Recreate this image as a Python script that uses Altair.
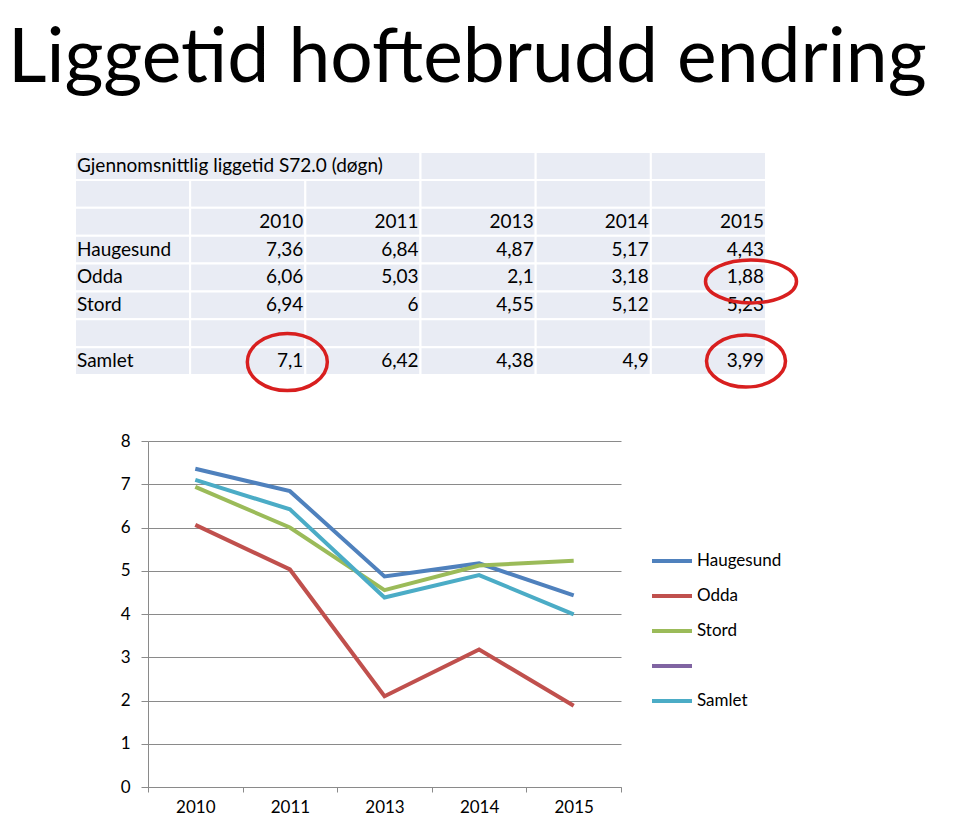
import altair as alt
import pandas as pd

# ---------------- data ----------------
years = ["2010", "2011", "2013", "2014", "2015"]
haugesund = [7.36, 6.84, 4.87, 5.17, 4.43]
odda = [6.06, 5.03, 2.1, 3.18, 1.88]
stord = [6.94, 6.0, 4.55, 5.12, 5.23]
samlet = [7.1, 6.42, 4.38, 4.9, 3.99]

series_names = ["Haugesund", "Odda", "Stord", "Serie4", "Samlet"]
series_colors = ["#4f81bd", "#c0504d", "#9bbb59", "#8064a2", "#4bacc6"]

title_text = "Liggetid hoftebrudd endring"
table_title = "Gjennomsnittlig liggetid S72.0 (døgn)"
circled = [("Odda", "2015"), ("Samlet", "2010"), ("Samlet", "2015")]

# ---------------- styling ----------------
FONT = "Lato"
GREY = "#8a8a8a"
CELL = "#e9ecf4"
RED = "#d81f1f"
# (width, height, xOffset, yOffset) of each red ellipse
ellipse_style = [(91, 43, -15, 4), (80, 57, -18, 1), (79, 52, -20, 0)]

values = {"Haugesund": haugesund, "Odda": odda, "Stord": stord, "Samlet": samlet}
row_layout = ["__title", "__blank", "__header", "Haugesund", "Odda", "Stord", "__blank", "Samlet"]
ncols = len(years) + 1


def fmt(v):
    return f"{v:g}".replace(".", ",")


cells = []
left_texts = []
right_texts = []
for r, key in enumerate(row_layout):
    if key == "__title":
        spans = [(0, 3)] + [(c, c + 1) for c in range(3, ncols)]
    else:
        spans = [(c, c + 1) for c in range(ncols)]
    for c0, c1 in spans:
        cells.append({"r0": r, "r1": r + 1, "c0": c0, "c1": c1})
    if key == "__title":
        left_texts.append({"r": r + 0.5, "c": 0, "t": table_title})
    elif key == "__header":
        for i, yr in enumerate(years):
            right_texts.append({"r": r + 0.5, "c": i + 2, "t": yr})
    elif key in values:
        left_texts.append({"r": r + 0.5, "c": 0, "t": key})
        for i, v in enumerate(values[key]):
            right_texts.append({"r": r + 0.5, "c": i + 2, "t": fmt(v)})

tx = alt.Scale(domain=[0, ncols], range=[-73, 618])
ty = alt.Scale(domain=[0, len(row_layout)], range=[-289, -66])

rects = alt.Chart(pd.DataFrame(cells)).mark_rect(
    fill=CELL, stroke="white", strokeWidth=2
).encode(
    x=alt.X("c0:Q", scale=tx, axis=None), x2="c1:Q",
    y=alt.Y("r0:Q", scale=ty, axis=None), y2="r1:Q",
)

ltxt = alt.Chart(pd.DataFrame(left_texts)).mark_text(
    align="left", baseline="middle", dx=2, font=FONT, fontSize=19, color="black"
).encode(
    x=alt.X("c:Q", scale=tx, axis=None),
    y=alt.Y("r:Q", scale=ty, axis=None),
    text="t:N",
)

rtxt = alt.Chart(pd.DataFrame(right_texts)).mark_text(
    align="right", baseline="middle", dx=-2, font=FONT, fontSize=19, color="black"
).encode(
    x=alt.X("c:Q", scale=tx, axis=None),
    y=alt.Y("r:Q", scale=ty, axis=None),
    text="t:N",
)


def ellipse_path(q):
    k = 0.5523
    return (f"M 1 0 C 1 {q*k:.4f} {k} {q:.4f} 0 {q:.4f} "
            f"C {-k} {q:.4f} -1 {q*k:.4f} -1 0 "
            f"C -1 {-q*k:.4f} {-k} {-q:.4f} 0 {-q:.4f} "
            f"C {k} {-q:.4f} 1 {-q*k:.4f} 1 0 Z")


circle_layers = []
for (name, yr), (w, h, dx, dy) in zip(circled, ellipse_style):
    d = pd.DataFrame([{"r": row_layout.index(name) + 0.5, "c": years.index(yr) + 2}])
    circle_layers.append(
        alt.Chart(d).mark_point(
            shape=ellipse_path(h / w), size=w * w, filled=False, stroke=RED,
            strokeWidth=3.5, opacity=1, xOffset=dx, yOffset=dy,
        ).encode(
            x=alt.X("c:Q", scale=tx, axis=None),
            y=alt.Y("r:Q", scale=ty, axis=None),
        )
    )

table = alt.layer(rects, ltxt, rtxt, *circle_layers)

# slide title (placed above the table, in pixels relative to the plot area)
title = alt.Chart(pd.DataFrame({"t": [title_text]})).mark_text(
    align="left", baseline="alphabetic", font=FONT, fontSize=75, color="black"
).encode(
    x=alt.value(-140), y=alt.value(-359), text="t:N"
)

# ---------------- line chart ----------------
long = []
for name in ["Haugesund", "Odda", "Stord", "Samlet"]:
    for yr, v in zip(years, values[name]):
        long.append({"serie": name, "year": yr, "value": v})

legend_symbol = "M -3 0 L 1 0"

lines = alt.Chart(pd.DataFrame(long)).mark_line(strokeWidth=4).encode(
    x=alt.X(
        "year:N", sort=years, bandPosition=0.5,
        scale=alt.Scale(type="band", domain=years, paddingInner=0, paddingOuter=0),
        axis=alt.Axis(
            title=None, orient="bottom", labelAngle=0, tickBand="extent", tickSize=5,
            labelPadding=7, grid=False, domainColor=GREY, tickColor=GREY,
            labelFont=FONT, labelFontSize=17, labelColor="black",
        ),
    ),
    y=alt.Y(
        "value:Q", scale=alt.Scale(domain=[0, 8], nice=False),
        axis=alt.Axis(
            title=None, orient="left", values=list(range(9)), tickSize=7, labelPadding=11,
            grid=True, gridColor=GREY, gridOpacity=1, domainColor=GREY, tickColor=GREY,
            labelFont=FONT, labelFontSize=17, labelColor="black",
        ),
    ),
    color=alt.Color(
        "serie:N",
        scale=alt.Scale(domain=series_names, range=series_colors),
        legend=alt.Legend(
            title=None, orient="none", legendX=522, legendY=108,
            symbolType=legend_symbol, symbolSize=400, symbolStrokeWidth=4,
            labelFont=FONT, labelFontSize=17, labelColor="black", labelOffset=3,
            rowPadding=15, labelExpr="datum.label == 'Serie4' ? '' : datum.label",
        ),
    ),
)

chart = alt.layer(lines, table, title).resolve_scale(
    x="independent", y="independent"
).properties(
    width=473,
    height=346,
    padding={"left": 140, "top": 433, "right": 331, "bottom": 28},
    autosize=alt.AutoSizeParams(type="none"),
).configure_view(stroke=None)

chart.save("out.html", embed_options={"renderer": "svg", "actions": False})
